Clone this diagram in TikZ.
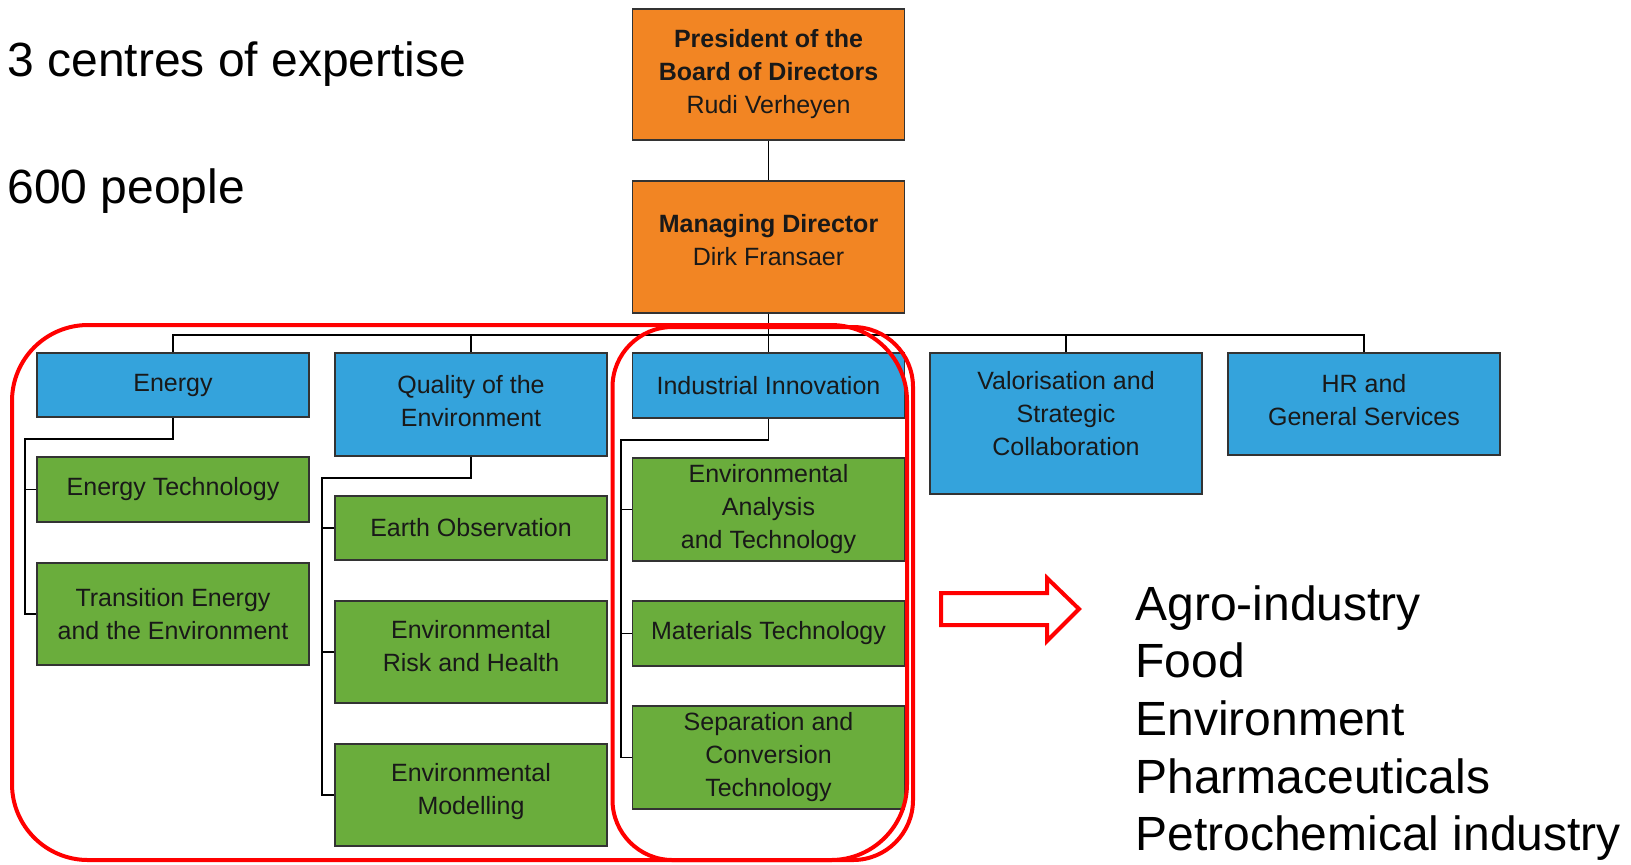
\documentclass[tikz,border=0pt]{standalone}
\usepackage{fontspec}
\setmainfont{Liberation Sans}
\usetikzlibrary{calc}
\definecolor{orgorange}{RGB}{242,133,35}
\definecolor{orgblue}{RGB}{52,163,220}
\definecolor{orggreen}{RGB}{106,173,60}
\newcommand{\boxfont}{\fontsize{12.5}{16.5}\selectfont}
\newcommand{\bigfont}{\fontsize{24}{28.8}\selectfont}
\begin{document}
\begin{tikzpicture}[x=0.5pt, y=-0.5pt,
    orgbox/.style={draw=black!80, line width=0.8pt, minimum width=136pt, align=center, inner sep=2pt, text=black!90, font=\boxfont},
    head/.style={orgbox, fill=orgorange},
    dept/.style={orgbox, fill=orgblue},
    unit/.style={orgbox, fill=orggreen},
    lift/.style={text depth=#1},
    link/.style={draw=black, line width=0.8pt},
    ring/.style={draw=red, line width=2pt},
    bigtext/.style={inner sep=0pt, font=\bigfont}]
  \useasboundingbox (0,0) rectangle (1631,864);
  % Management
  \node[head, minimum height=65.5pt] (pres) at (768.5,74.5) {\textbf{President of the}\\\textbf{Board of Directors}\\Rudi Verheyen};
  \node[head, minimum height=66pt, lift=7pt] (md) at (768.5,247) {\textbf{Managing Director}\\Dirk Fransaer};
  % Departments
  \node[dept, minimum height=32pt] (energy) at (173,385) {Energy};
  \node[dept, minimum height=51.5pt, lift=4pt] (quality) at (471,404.5) {Quality of the\\Environment};
  \node[dept, minimum height=32.5pt] (industry) at (768.5,385.5) {Industrial Innovation};
  \node[dept, minimum height=70.5pt, lift=10pt] (valor) at (1066,423.5) {Valorisation and\\Strategic\\Collaboration};
  \node[dept, minimum height=51pt, lift=4pt] (hr) at (1364,404) {HR and\\General Services};
  % Units
  \node[unit, minimum height=32.5pt] (etech) at (173,489.5) {Energy Technology};
  \node[unit, minimum height=51pt] (trans) at (173,614) {Transition Energy\\and the Environment};
  \node[unit, minimum height=32pt] (earth) at (471,528) {Earth Observation};
  \node[unit, minimum height=51pt, lift=6pt] (risk) at (471,652) {Environmental\\Risk and Health};
  \node[unit, minimum height=51pt, lift=6.5pt] (model) at (471,795) {Environmental\\Modelling};
  \node[unit, minimum height=51.5pt] (analysis) at (768.5,509.5) {Environmental\\Analysis\\and Technology};
  \node[unit, minimum height=32.5pt] (materials) at (768.5,633.5) {Materials Technology};
  \node[unit, minimum height=51.5pt] (separation) at (768.5,757.5) {Separation and\\Conversion\\Technology};
  % Tree lines
  \coordinate (bus) at ($(md.south)+(0,21)$);
  \draw[link] (pres) -- (md);
  \draw[link] (md.south) -- (industry.north);
  \draw[link] (energy.north) -- (energy.north |- bus) -- (hr.north |- bus) -- (hr.north);
  \draw[link] (quality.north) -- (quality.north |- bus);
  \draw[link] (valor.north) -- (valor.north |- bus);
  \draw[link] (energy.south) -- ++(0,21) -| ($(trans.west)+(-11,0)$) -- (trans.west);
  \draw[link] (etech.west) -- ++(-11,0);
  \draw[link] (quality.south) -- ++(0,21) -| ($(model.west)+(-12,0)$) -- (model.west);
  \draw[link] (earth.west) -- ++(-12,0);
  \draw[link] (risk.west) -- ++(-12,0);
  \draw[link] (industry.south) -- ++(0,21) -| ($(separation.west)+(-11,0)$) -- (separation.west);
  \draw[link] (analysis.west) -- ++(-11,0);
  \draw[link] (materials.west) -- ++(-11,0);
  % Centres of expertise
  \draw[ring, rounded corners=38pt] (12,325) rectangle (907,860);
  \draw[ring, rounded corners=30pt] (612.5,327) rectangle (913,860);
  \draw[ring, fill=white] (941,593) -- (1047,593) -- (1047,578) -- (1079,609) -- (1047,641) -- (1047,625) -- (941,625) -- cycle;
  % Texts
  \node[bigtext, anchor=base west] (centres) at (7,76) {3 centres of expertise};
  \node[bigtext, anchor=base west] (people) at (7,203) {600 people};
  \node[bigtext, anchor=west, align=left] (sectors) at (1135,723) {Agro-industry\\Food\\Environment\\Pharmaceuticals\\Petrochemical industry};
\end{tikzpicture}
\end{document}
